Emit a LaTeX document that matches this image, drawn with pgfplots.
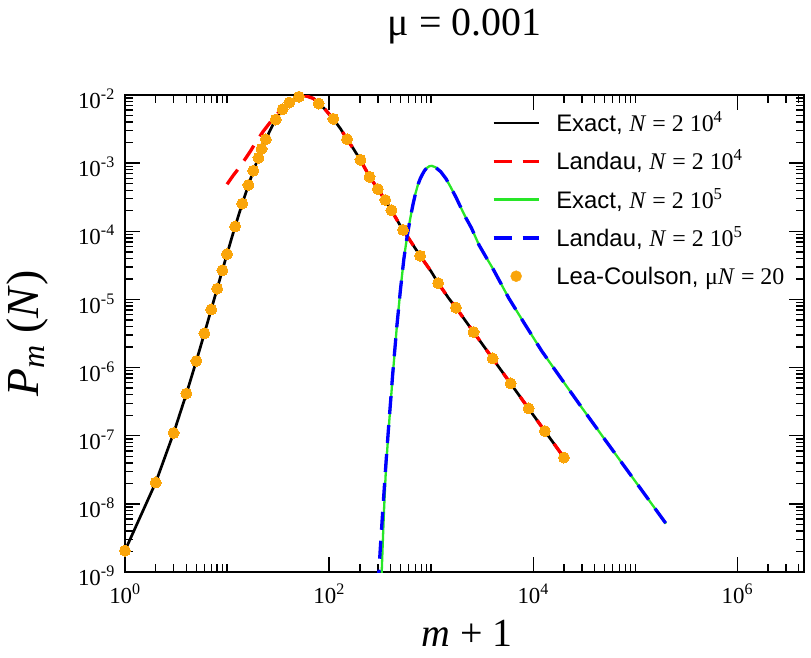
\documentclass[border=0pt]{standalone}
\usepackage{fontspec}
\setmainfont{Liberation Serif}
\setsansfont{Liberation Sans}
\usepackage{pgfplots}
\pgfplotsset{compat=1.18}
\definecolor{cRed}{RGB}{255,0,0}
\definecolor{cGreen}{RGB}{40,230,40}
\definecolor{cBlue}{RGB}{0,0,255}
\definecolor{cOrange}{RGB}{250,165,10}
\begin{document}
\begin{tikzpicture}
\useasboundingbox (-125bp,-86bp) rectangle (686bp,572bp);
\begin{axis}[
  at={(0,0)}, anchor=south west,
  scale only axis, width=679bp, height=477bp,
  xmode=log, ymode=log,
  xmin=1, xmax=4.5e6, ymin=1e-9, ymax=1e-2,
  axis line style={line width=2.7bp},
  tick align=inside,
  major tick length=15bp, minor tick length=8bp,
  every tick/.append style={line width=1.4bp, black},
  xtick={1,100,10000,1000000},
  xticklabels={10\textsuperscript{0},10\textsuperscript{2},10\textsuperscript{4},10\textsuperscript{6}},
  minor xtick={2,3,4,5,6,7,8,9,10,200,300,400,500,600,700,800,900,1000,20000,30000,40000,50000,60000,70000,80000,90000,100000,2000000,3000000,4000000},
  ytick={1e-9,1e-8,1e-7,1e-6,1e-5,1e-4,1e-3,1e-2},
  yticklabels={10\textsuperscript{-9},10\textsuperscript{-8},10\textsuperscript{-7},10\textsuperscript{-6},10\textsuperscript{-5},10\textsuperscript{-4},10\textsuperscript{-3},10\textsuperscript{-2}},
  minor ytick={2e-9,3e-9,4e-9,5e-9,6e-9,7e-9,8e-9,9e-9,
    2e-8,3e-8,4e-8,5e-8,6e-8,7e-8,8e-8,9e-8,
    2e-7,3e-7,4e-7,5e-7,6e-7,7e-7,8e-7,9e-7,
    2e-6,3e-6,4e-6,5e-6,6e-6,7e-6,8e-6,9e-6,
    2e-5,3e-5,4e-5,5e-5,6e-5,7e-5,8e-5,9e-5,
    2e-4,3e-4,4e-4,5e-4,6e-4,7e-4,8e-4,9e-4,
    2e-3,3e-3,4e-3,5e-3,6e-3,7e-3,8e-3,9e-3},
  tick label style={font=\rmfamily\fontsize{23}{23}\selectfont},
  yticklabel style={inner sep=0pt, anchor=east, xshift=-10bp, yshift=-4bp},
  xticklabel style={inner sep=0pt, anchor=north, yshift=-12bp},
  title={μ = 0.001},
  title style={font=\rmfamily\fontsize{40}{40}\selectfont, at={(axis description cs:0.5,1)}, anchor=base, yshift=54bp},
  xlabel={\textit{m} + 1},
  xlabel style={font=\rmfamily\fontsize{40}{40}\selectfont, at={(axis description cs:0.504,-0.157)}, anchor=base},
  ylabel={\textit{P}\textsubscript{\textit{m}} (\textit{N})},
  ylabel style={font=\rmfamily\fontsize{46}{46}\selectfont, at={(axis description cs:-0.128,0.5)}, anchor=base},
  legend style={at={(axis description cs:0.5405,0.9654)}, anchor=north west, draw=none, fill=none,
    inner sep=0pt, outer sep=0pt, row sep=15.3bp, column sep=16bp,
    font=\sffamily\fontsize{24}{24}\selectfont,
    nodes={inner sep=0pt, text height=20bp, text depth=3bp}, cells={anchor=west}},
  legend cell align=left,
  legend image code/.code={\draw[#1] (0bp,0bp) -- (45bp,0bp);},
]
% Exact, N = 2 10^4
\addplot[black, line width=2.7bp] coordinates {
(1,2.06e-9)(2,2.06e-8)(3,1.10e-7)(4,4.16e-7)(5,1.25e-6)(6,3.18e-6)(7,7.13e-6)(8,1.44e-5)(9,2.68e-5)(10,4.64e-5)
(11,7.59e-5)(12,1.18e-4)(14,2.48e-4)(16,4.52e-4)(18,7.50e-4)(20,1.148e-3)(22,1.66e-3)(24,2.24e-3)(27,3.24e-3)
(30,4.37e-3)(35,6.17e-3)(40,7.59e-3)(45,8.61e-3)(50,9.33e-3)(55,9.66e-3)(60,9.66e-3)(70,8.91e-3)(80,7.41e-3)
(90,6.31e-3)(100,5.25e-3)(110,4.47e-3)(130,3.16e-3)(150,2.24e-3)(175,1.585e-3)(200,1.148e-3)(250,6.31e-4)
(300,4.17e-4)(350,2.95e-4)(400,2.14e-4)(500,1.20e-4)(600,7.94e-5)(780,4.37e-5)(1000,2.57e-5)(1170,1.74e-5)
(1500,1.02e-5)(1750,7.59e-6)(2600,3.33e-6)(4000,1.36e-6)(6000,5.85e-7)(9000,2.51e-7)(13000,1.17e-7)(20000,4.79e-8)};
\addlegendentry{Exact, {\rmfamily\textit{N} = 2 10\textsuperscript{4}}}
% Landau, N = 2 10^4
\addplot[cRed, line width=3.3bp, dash pattern=on 18bp off 11bp] coordinates {
(10,4.90e-4)(11.5,6.61e-4)(13.1,8.51e-4)(15.2,1.175e-3)(17,1.51e-3)(19.2,2.04e-3)(22.7,2.95e-3)(26.8,4.07e-3)
(30,5.01e-3)(35,6.46e-3)(40,7.76e-3)(45,8.71e-3)(50,9.33e-3)(55,9.66e-3)(60,9.66e-3)(70,8.91e-3)(80,7.41e-3)
(90,6.31e-3)(100,5.25e-3)(110,4.47e-3)(130,3.16e-3)(150,2.24e-3)(175,1.585e-3)(200,1.148e-3)(250,6.31e-4)
(300,4.17e-4)(350,2.95e-4)(400,2.14e-4)(500,1.20e-4)(600,7.94e-5)(780,4.37e-5)(1000,2.57e-5)(1170,1.74e-5)
(1500,1.02e-5)(1750,7.59e-6)(2600,3.33e-6)(4000,1.36e-6)(6000,5.85e-7)(9000,2.51e-7)(13000,1.17e-7)(20000,4.79e-8)};
\addlegendentry{Landau, {\rmfamily\textit{N} = 2 10\textsuperscript{4}}}
% Exact, N = 2 10^5
\addplot[cGreen, line width=2.3bp] coordinates {
(326,7.94e-10)(335,2.51e-9)(345,7.94e-9)(360,3.16e-8)(380,1.05e-7)(420,7.59e-7)(460.6,3.98e-6)(500.6,1.41e-5)
(540.6,3.98e-5)(580.6,8.32e-5)(620.6,1.48e-4)(660.6,2.40e-4)(700.6,3.55e-4)(740.6,4.79e-4)(780.6,5.89e-4)
(820,6.84e-4)(860,7.76e-4)(900,8.41e-4)(960,9.02e-4)(1016,9.12e-4)(1100,8.71e-4)(1240,7.50e-4)(1400,5.89e-4)
(1550,4.47e-4)(1750,3.16e-4)(1950,2.24e-4)(2200,1.55e-4)(2480,1.12e-4)(2940,6.31e-5)(3450,4.17e-5)(4000,2.88e-5)
(4530,2.04e-5)(5750,1.05e-5)(8250,4.37e-6)(12150,1.74e-6)(17950,7.59e-7)(30000,2.57e-7)(50000,8.91e-8)
(70000,4.47e-8)(100000,2.14e-8)(140000,1.07e-8)(200000,5.13e-9)};
\addlegendentry{Exact, {\rmfamily\textit{N} = 2 10\textsuperscript{5}}}
% Landau, N = 2 10^5
\addplot[cBlue, line width=3.3bp, dash pattern=on 18bp off 11bp] coordinates {
(300.6,5.89e-10)(320.6,2.82e-9)(340.6,1.12e-8)(360.6,3.98e-8)(380.6,1.20e-7)(420.6,8.32e-7)(460.6,3.98e-6)(500.6,1.41e-5)
(540.6,3.98e-5)(580.6,8.32e-5)(620.6,1.48e-4)(660.6,2.40e-4)(700.6,3.55e-4)(740.6,4.79e-4)(780.6,5.89e-4)
(820,6.84e-4)(860,7.76e-4)(900,8.41e-4)(960,9.02e-4)(1016,9.12e-4)(1100,8.71e-4)(1240,7.50e-4)(1400,5.89e-4)
(1550,4.47e-4)(1750,3.16e-4)(1950,2.24e-4)(2200,1.55e-4)(2480,1.12e-4)(2940,6.31e-5)(3450,4.17e-5)(4000,2.88e-5)
(4530,2.04e-5)(5750,1.05e-5)(8250,4.37e-6)(12150,1.74e-6)(17950,7.59e-7)(30000,2.57e-7)(50000,8.91e-8)
(70000,4.47e-8)(100000,2.14e-8)(140000,1.07e-8)(200000,5.13e-9)};
\addlegendentry{Landau, {\rmfamily\textit{N} = 2 10\textsuperscript{5}}}
% Lea-Coulson
\addplot[only marks, mark=*, mark size=5.5bp, mark options={fill=cOrange, draw=cOrange, line width=0pt},
  legend image code/.code={\fill[cOrange] (22.5bp,0bp) circle (5.5bp);}] coordinates {
(1,2.06e-9)(2,2.06e-8)(3,1.10e-7)(4,4.16e-7)(5,1.25e-6)(6,3.18e-6)(7,7.13e-6)(8,1.44e-5)(9,2.68e-5)(10,4.64e-5)
(12,1.18e-4)(14.1,2.55e-4)(16.2,4.79e-4)(18.1,7.76e-4)(20.3,1.20e-3)(21.8,1.62e-3)(24,2.24e-3)(30,4.37e-3)
(35,6.17e-3)(40.8,7.76e-3)(50.6,9.44e-3)(79,7.50e-3)(110,4.47e-3)(150,2.24e-3)(203,1.12e-3)(249,6.31e-4)
(300,4.17e-4)(355,2.88e-4)(408,2.04e-4)(530,1.05e-4)(780,4.37e-5)(1170,1.74e-5)(1750,7.59e-6)(2600,3.33e-6)
(4000,1.36e-6)(6000,5.85e-7)(9000,2.51e-7)(13000,1.17e-7)(20000,4.79e-8)};
\addlegendentry{Lea-Coulson, {\rmfamily μ\textit{N} = 20}}
\end{axis}
\end{tikzpicture}
\end{document}
